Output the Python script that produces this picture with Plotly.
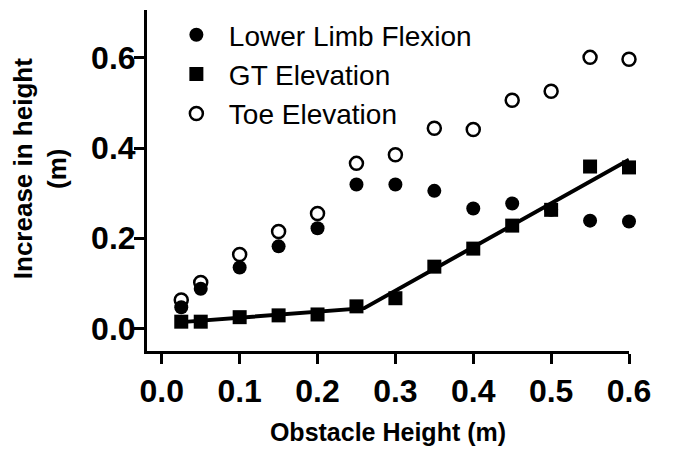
import plotly.graph_objects as go

# Obstacle heights (m)
obstacle_height = [0.025, 0.05, 0.10, 0.15, 0.20, 0.25, 0.30, 0.35, 0.40, 0.45, 0.50, 0.55, 0.60]

# Increase in height (m) for each strategy
lower_limb_flexion = [0.047, 0.088, 0.135, 0.182, 0.222, 0.319, 0.319, 0.305, 0.266, 0.277, 0.263, 0.239, 0.237]
gt_elevation = [0.015, 0.015, 0.025, 0.029, 0.031, 0.049, 0.067, 0.137, 0.177, 0.228, 0.263, 0.359, 0.357]
toe_elevation = [0.063, 0.102, 0.164, 0.215, 0.255, 0.366, 0.385, 0.444, 0.441, 0.506, 0.526, 0.601, 0.597]

# Segmented linear fit of GT elevation
fit_x = [0.025, 0.26, 0.60]
fit_y = [0.014, 0.045, 0.374]

x_ticks = [0.0, 0.1, 0.2, 0.3, 0.4, 0.5, 0.6]
y_ticks = [0.0, 0.2, 0.4, 0.6]

FONT = "Liberation Sans, Arial, sans-serif"

fig = go.Figure()

fig.add_trace(go.Scatter(
    x=fit_x, y=fit_y, mode="lines",
    line=dict(color="black", width=4),
    showlegend=False, hoverinfo="skip", cliponaxis=False,
))
fig.add_trace(go.Scatter(
    x=obstacle_height, y=lower_limb_flexion, mode="markers",
    name="Lower Limb Flexion",
    marker=dict(symbol="circle", size=14, color="black"),
    cliponaxis=False,
))
fig.add_trace(go.Scatter(
    x=obstacle_height, y=gt_elevation, mode="markers",
    name="GT Elevation",
    marker=dict(symbol="square", size=14, color="black"),
    cliponaxis=False,
))
fig.add_trace(go.Scatter(
    x=obstacle_height, y=toe_elevation, mode="markers",
    name="Toe Elevation",
    marker=dict(symbol="circle-open", size=13, color="black",
                line=dict(color="black", width=2.5)),
    cliponaxis=False,
))

# Two-line y-axis title, placed as a rotated annotation
fig.add_annotation(
    text="<b>Increase in height</b><br><b>(m)</b>",
    xref="paper", yref="paper", x=-0.222, y=0.536,
    xanchor="center", yanchor="middle",
    textangle=-90, showarrow=False,
    font=dict(size=26, family=FONT, color="black"),
)

fig.update_layout(
    width=689, height=453,
    margin=dict(l=147, r=60, t=10, b=100),
    paper_bgcolor="white", plot_bgcolor="white",
    font=dict(family=FONT, color="black"),
    showlegend=True,
    legend=dict(
        x=0.035, y=1.0, xanchor="left", yanchor="top",
        bgcolor="rgba(0,0,0,0)",
        font=dict(size=28, family=FONT, color="black"),
        itemwidth=55,
    ),
    xaxis=dict(
        range=[-0.019, 0.6],
        tickvals=x_ticks, tickformat=".1f",
        showline=True, linecolor="black", linewidth=3,
        ticks="outside", ticklen=10, tickwidth=3, tickcolor="black",
        showgrid=False, zeroline=False,
        tickfont=dict(size=32, family=FONT, weight="bold"),
        title=dict(text="Obstacle Height (m)",
                   font=dict(size=25, family=FONT, weight="bold"),
                   standoff=16),
    ),
    yaxis=dict(
        range=[-0.05, 0.706],
        tickvals=y_ticks, tickformat=".1f",
        showline=True, linecolor="black", linewidth=3,
        ticks="outside", ticklen=10, tickwidth=3, tickcolor="black",
        ticklabelstandoff=-8,
        showgrid=False, zeroline=False,
        tickfont=dict(size=32, family=FONT, weight="bold"),
    ),
)

fig.write_html("out.html")
